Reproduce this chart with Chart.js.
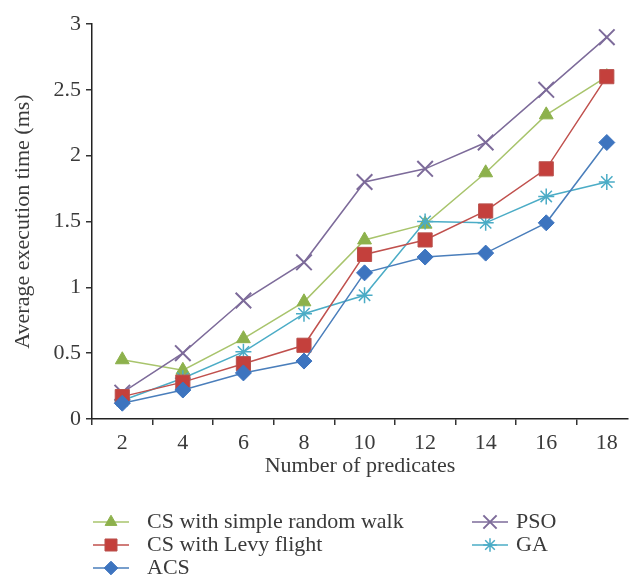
<!DOCTYPE html>
<html>
<head>
<meta charset="utf-8">
<script src="https://cdn.jsdelivr.net/npm/chart.js@4.4.1/dist/chart.umd.min.js"></script>
<style>
  body { margin: 0; background: #fff; }
  #wrap { width: 641px; height: 579px; }
</style>
</head>
<body>
<div id="wrap"><canvas id="myChart" width="641" height="579"></canvas></div>
<script>
// number of predicates (x axis)
const predicates = [2, 4, 6, 8, 10, 12, 14, 16, 18];
const yTicks = [0, 0.5, 1, 1.5, 2, 2.5, 3];

// average execution time (ms)
const csRandomWalk = [0.45, 0.37, 0.61, 0.89, 1.36, 1.48, 1.87, 2.31, 2.6];
const csLevy = [0.17, 0.28, 0.42, 0.56, 1.25, 1.36, 1.58, 1.9, 2.6];
const acs = [0.12, 0.22, 0.35, 0.44, 1.11, 1.23, 1.26, 1.49, 2.1];
const pso = [0.2, 0.5, 0.9, 1.19, 1.8, 1.9, 2.1, 2.5, 2.9];
const ga = [0.14, 0.31, 0.51, 0.8, 0.94, 1.5, 1.49, 1.69, 1.8];

const seriesNames = ['CS with simple random walk', 'CS with Levy flight', 'ACS', 'PSO', 'GA'];

const serif = 'Liberation Serif';
const textColor = '#3a3a3a';

function pts(vals) {
  return vals.map((v, i) => ({ x: predicates[i], y: v }));
}

const datasets = [
  { label: seriesNames[0], data: pts(csRandomWalk), borderColor: '#a8c46c', pointBackgroundColor: '#8db14c',
    pointBorderColor: '#8db14c', pointStyle: 'triangle', pointRadius: 8, pointBorderWidth: 1, order: 5 },
  { label: seriesNames[1], data: pts(csLevy), borderColor: '#c0504d', pointBackgroundColor: '#c4403c',
    pointBorderColor: '#b9504c', pointStyle: 'rect', pointRadius: 10, pointBorderWidth: 1, order: 2 },
  { label: seriesNames[2], data: pts(acs), borderColor: '#4a7ebb', pointBackgroundColor: '#3d74bf',
    pointBorderColor: '#3d74bf', pointStyle: 'rectRot', pointRadius: 8, pointBorderWidth: 1, order: 1 },
  { label: seriesNames[3], data: pts(pso), borderColor: '#7d6b9a', pointBorderColor: '#7d6b9a',
    pointStyle: 'crossRot', pointRadius: 11, pointBorderWidth: 2, order: 4 },
  { label: seriesNames[4], data: pts(ga), borderColor: '#4bacc6', pointBorderColor: '#4bacc6',
    pointStyle: 'star', pointRadius: 8, pointBorderWidth: 1.5, order: 3 }
];
datasets.forEach(d => { d.borderWidth = 1.5; d.fill = false; d.tension = 0; d.pointHoverRadius = d.pointRadius; });

// legend in two columns under the chart
const legendPlugin = {
  id: 'twoColLegend',
  afterDraw(chart) {
    const ctx = chart.ctx;
    const slots = [[93, 522], [93, 545], [93, 568], [472, 522], [472, 545]];
    ctx.save();
    chart.data.datasets.forEach((ds, i) => {
      const [x, y] = slots[i];
      ctx.strokeStyle = ds.borderColor;
      ctx.lineWidth = 1.5;
      ctx.beginPath();
      ctx.moveTo(x, y);
      ctx.lineTo(x + 36, y);
      ctx.stroke();
      ctx.fillStyle = ds.pointBackgroundColor || ds.borderColor;
      ctx.strokeStyle = ds.pointBorderColor;
      ctx.lineWidth = ds.pointBorderWidth;
      Chart.helpers.drawPoint(ctx, { pointStyle: ds.pointStyle, radius: ds.pointRadius * 0.85, rotation: 0, borderWidth: ds.pointBorderWidth }, x + 18, y);
      ctx.fillStyle = textColor;
      ctx.font = '22px "' + serif + '"';
      ctx.textBaseline = 'middle';
      ctx.textAlign = 'left';
      ctx.fillText(ds.label, x + (i < 3 ? 54 : 44), y);
    });
    ctx.restore();
  }
};

const config = {
  type: 'line',
  data: { datasets: datasets },
  plugins: [legendPlugin],
  options: {
    responsive: false,
    animation: false,
    layout: { padding: { top: 24, right: 0, bottom: 90, left: 0 } },
    plugins: { legend: { display: false }, tooltip: { enabled: false } },
    scales: {
      x: {
        type: 'linear',
        min: 1,
        max: 18.7,
        afterBuildTicks: s => { s.ticks = predicates.flatMap(p => [p - 1, p]).map(v => ({ value: v })); },
        afterFit: s => { s.height = 70; s.paddingLeft = 0; s.paddingRight = 0; },
        ticks: {
          autoSkip: false, maxRotation: 0, padding: 5, color: textColor,
          font: { family: serif, size: 22 },
          callback: v => predicates.includes(v) ? String(v) : ''
        },
        grid: {
          drawOnChartArea: false, tickLength: 6, lineWidth: 1.5,
          color: c => (c.tick && c.tick.value % 2 === 1) ? '#333' : 'rgba(0,0,0,0)'
        },
        border: { color: '#222', width: 1.5 },
        title: { display: true, text: 'Number of predicates', color: textColor,
                 font: { family: serif, size: 22 }, padding: { top: 0, bottom: 10 } }
      },
      y: {
        min: 0,
        max: 3,
        afterBuildTicks: s => { s.ticks = yTicks.map(v => ({ value: v })); },
        afterFit: s => { s.width = 92; s.paddingTop = 0; s.paddingBottom = 0; },
        ticks: { padding: 5, color: textColor, font: { family: serif, size: 22 }, callback: v => String(v) },
        grid: { drawOnChartArea: false, tickLength: 6, lineWidth: 1.5, color: '#333' },
        border: { color: '#222', width: 1.5 },
        title: { display: true, text: 'Average execution time (ms)', color: textColor,
                 font: { family: serif, size: 22 }, padding: { top: 10, bottom: 0 } }
      }
    }
  }
};

const myChart = new Chart(document.getElementById('myChart'), config);
</script>
</body>
</html>
